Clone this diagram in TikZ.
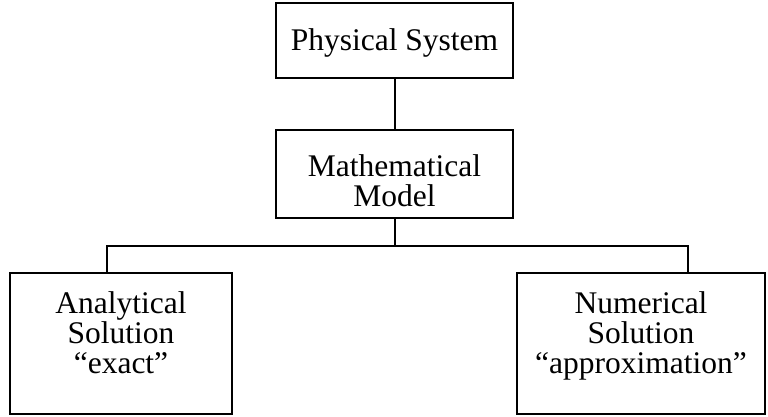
\documentclass[tikz,border=0pt]{standalone}
\usepackage{fontspec}
\setmainfont{Liberation Serif}
\begin{document}
\begin{tikzpicture}[x=1pt,y=-1pt,
  box/.style={draw, line width=1.5pt, inner sep=0pt},
  lbl/.style={font=\fontsize{31.5}{30}\selectfont, align=center, inner sep=0pt, anchor=base},
  conn/.style={line width=1.5pt}]
\useasboundingbox (0,0) rectangle (768,416);
\node[box, minimum width=237pt, minimum height=75pt] (phys) at (394.5,40.5) {};
\node[box, minimum width=237pt, minimum height=88pt] (math) at (394.5,174) {};
\node[box, minimum width=222pt, minimum height=141pt] (ana) at (121,343.5) {};
\node[box, minimum width=248pt, minimum height=141pt] (num) at (641,343.5) {};
\node[lbl] (tphys) at (394.5,50) {Physical System};
\node[lbl] (tmath) at (394.5,206) {Mathematical\\Model};
\node[lbl] (tana) at (121,373) {Analytical\\Solution\\“exact”};
\node[lbl] (tnum) at (641,373) {Numerical\\Solution\\“approximation”};
\coordinate (j) at (395,246);
\coordinate (jl) at (107,246);
\coordinate (jr) at (688,246);
\draw[conn] (phys.south -| j) -- (math.north -| j);
\draw[conn] (math.south -| j) -- (j);
\draw[conn] (ana.north -| jl) -- (jl) -- (jr) -- (num.north -| jr);
\end{tikzpicture}
\end{document}
